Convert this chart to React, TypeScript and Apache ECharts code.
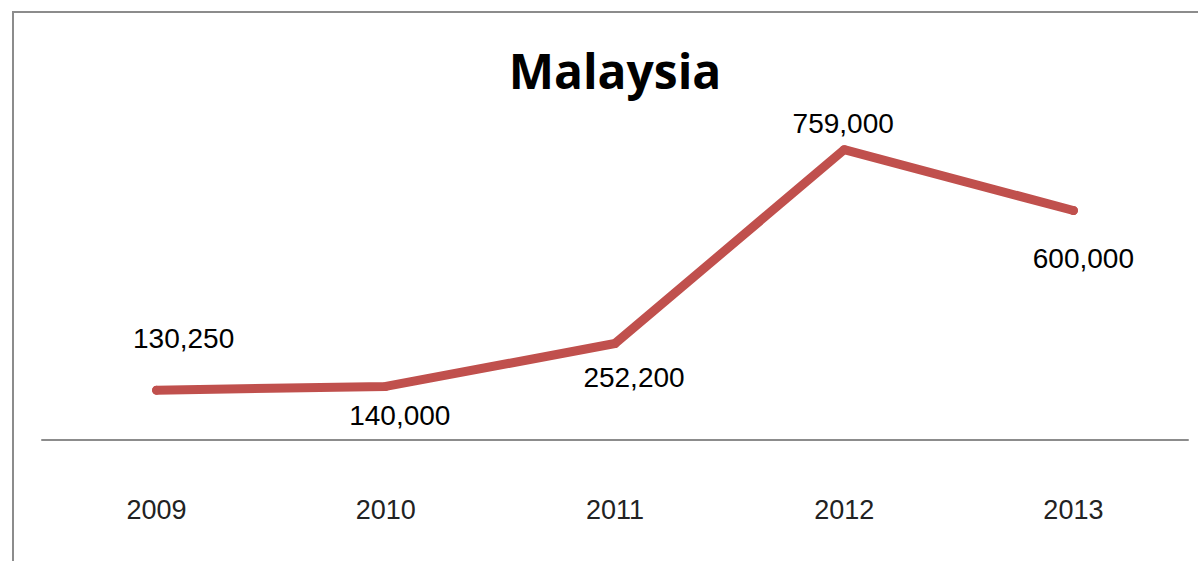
import React, { useEffect, useRef } from "react";
import * as echarts from "echarts";

const years = ["2009", "2010", "2011", "2012", "2013"];
const arrivals = [130250, 140000, 252200, 759000, 600000];
const labelTexts = ["130,250", "140,000", "252,200", "759,000", "600,000"];
const labelOffsets: [number, number][] = [
  [27, -52],
  [14, 29],
  [19, 34],
  [-1, -26],
  [10, 48],
];
const titleText = "Malaysia";

export default function App() {
  const ref = useRef<HTMLDivElement>(null);
  useEffect(() => {
    document.body.style.margin = "0";
    const chart = echarts.init(ref.current!, null, { renderer: "svg" });
    chart.setOption({
      animation: false,
      backgroundColor: "#ffffff",
      grid: { left: 42, right: 10, top: 134, bottom: 121 },
      xAxis: {
        type: "category",
        data: years,
        boundaryGap: true,
        axisLine: { show: true, lineStyle: { color: "#8c8c8c", width: 2 } },
        axisTick: { show: false },
        axisLabel: {
          color: "#222",
          fontSize: 27,
          fontFamily: "Liberation Sans, Arial, sans-serif",
          margin: 56,
        },
      },
      yAxis: {
        type: "value",
        min: 0,
        max: 800000,
        show: false,
        splitLine: { show: false },
      },
      series: [
        {
          type: "line",
          data: arrivals.map((v, i) => ({
            value: v,
            label: {
              show: true,
              position: "inside",
              offset: labelOffsets[i],
              formatter: () => labelTexts[i],
            },
          })),
          symbol: "circle",
          symbolSize: 9,
          itemStyle: { color: "#C0504D" },
          lineStyle: { color: "#C0504D", width: 9, join: "round", cap: "round" },
          label: {
            show: true,
            color: "#000",
            fontSize: 28,
            fontFamily: "Liberation Sans, Arial, sans-serif",
          },
          emphasis: { disabled: true },
        },
      ],
      graphic: [
        {
          type: "rect",
          shape: { x: 12, y: 11, width: 1186, height: 2 },
          style: { fill: "#8c8c8c" },
          silent: true,
        },
        {
          type: "rect",
          shape: { x: 12, y: 11, width: 2, height: 550 },
          style: { fill: "#8c8c8c" },
          silent: true,
        },
        {
          type: "text",
          x: 615,
          y: 70,
          style: {
            text: titleText,
            fill: "#000",
            font: "bold 48px 'Open Sans', sans-serif",
            textAlign: "center",
            textVerticalAlign: "middle",
          },
        },
      ],
    });
    return () => chart.dispose();
  }, []);
  return (
    <div
      ref={ref}
      style={{ position: "absolute", left: 0, top: 0, width: 1198, height: 561 }}
    />
  );
}
